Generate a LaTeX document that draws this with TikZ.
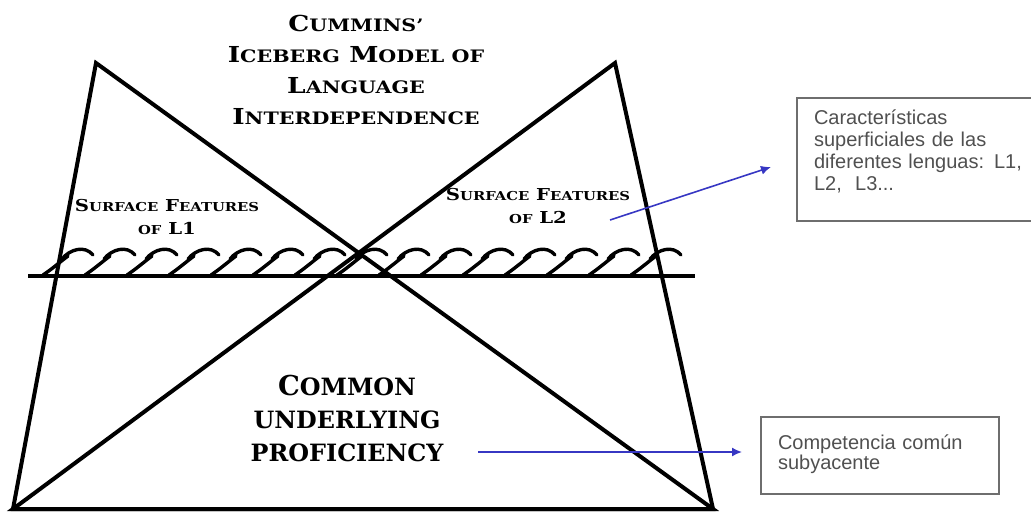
\documentclass[tikz,border=0pt]{standalone}
\usepackage{fontspec}
\setmainfont{DejaVu Serif}
\newfontfamily\capsfont{DejaVu Serif}
\newfontfamily\widecaps[FakeStretch=1.2]{DejaVu Serif}
\newfontfamily\boxfont{Liberation Sans}
\usetikzlibrary{arrows.meta}

\definecolor{arrowblue}{RGB}{55,55,195}
\definecolor{boxgray}{RGB}{110,110,110}
\definecolor{textgray}{RGB}{80,80,80}

\makeatletter
\newcommand{\lcratio}{0.78}
\newcommand{\lc}[1]{{\fontsize{\fpeval{\lcratio*\f@size}}{\f@baselineskip}\selectfont #1}}
\makeatother

\begin{document}
\begin{tikzpicture}[x=0.5pt, y=-0.5pt,
  berg/.style={line width=2pt, line join=miter},
  curl/.style={line width=1.7pt, line cap=round},
  pointer/.style={draw=arrowblue, line width=0.8pt, -{Latex[length=5pt, width=4.5pt]}},
  note/.style={draw=boxgray, line width=1pt, anchor=north west, align=left,
    text=textgray, inner xsep=8.5pt},
  heading/.style={align=center, inner sep=0pt, anchor=north, text=black}]
  \clip (0,0) rectangle (1031,513);
  \coordinate (l1) at (96,63);
  \coordinate (l2) at (615,63);
  \coordinate (b1) at (13,509);
  \coordinate (b2) at (713,509);
  \coordinate (w1) at (28,276);
  \coordinate (w2) at (695,276);
  \draw[berg] (l1) -- (b1) -- (b2) -- cycle;
  \draw[berg] (l2) -- (b2) -- (b1) -- cycle;
  \draw[berg] (w1) -- (w2);
  \foreach \x in {43,85,...,631} {
    \draw[curl] (\x,275) .. controls (\x+9,269) and (\x+17,262) .. (\x+25,256);
    \draw[curl] (\x+19,259) .. controls (\x+27,249) and (\x+42,245) .. (\x+50,255);
  }

  \node[heading, font={\def\lcratio{0.78}\widecaps\bfseries\fontsize{11}{15.5}\selectfont}] (title) at (356,15)
    {C\lc{UMMINS’}\\I\lc{CEBERG} M\lc{ODEL OF}\\L\lc{ANGUAGE}\\I\lc{NTERDEPENDENCE}};
  \node[heading, font={\def\lcratio{0.75}\widecaps\bfseries\fontsize{8.2}{11.5}\selectfont}] (sf1) at (167,199)
    {S\lc{URFACE} F\lc{EATURES}\\\lc{OF} L1};
  \node[heading, font={\def\lcratio{0.75}\widecaps\bfseries\fontsize{8.2}{11.5}\selectfont}] (sf2) at (538,188)
    {S\lc{URFACE} F\lc{EATURES}\\\lc{OF} L2};
  \node[heading, font={\def\lcratio{0.87}\capsfont\bfseries\fontsize{13.7}{16.5}\selectfont}] (cup) at (347,375)
    {C\lc{OMMON}\\\lc{UNDERLYING}\\\lc{PROFICIENCY}};

  \node[note, font=\boxfont\fontsize{10}{11}\selectfont, text width=115pt,
    inner ysep=6pt, text depth=42pt] (ubox) at (796,97)
    {Características\\superficiales de las\\diferentes lenguas: L1,\\L2,~ L3...};
  \node[note, font=\boxfont\fontsize{10}{10}\selectfont, text width=102pt,
    inner ysep=9pt, text depth=13pt] (lbox) at (760,416)
    {Competencia común\\subyacente};

  \coordinate (p1) at (610,220);
  \coordinate (q1) at (771,167);
  \coordinate (p2) at (478,452);
  \coordinate (q2) at (742,452);
  \draw[pointer] (p1) -- (q1);
  \draw[pointer] (p2) -- (q2);
\end{tikzpicture}
\end{document}
